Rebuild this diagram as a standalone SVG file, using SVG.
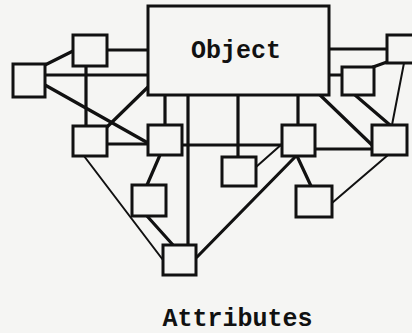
<svg xmlns="http://www.w3.org/2000/svg" width="412" height="333" viewBox="0 0 412 333">
  <style>
    .box { fill: #f5f5f3; stroke: #111; stroke-width: 3; }
    .thick { stroke: #111; stroke-width: 3.2; fill: none; stroke-linecap: round; }
    .thin { stroke: #111; stroke-width: 2; fill: none; stroke-linecap: round; }
    .lbl { font-family: "Liberation Mono", "Courier New", monospace; font-size: 25px; font-weight: bold; fill: #111; }
  </style>
  <rect width="412" height="333" fill="#f5f5f3"/>

  <!-- connectors -->
  <g id="connectors">
    <line class="thick" x1="107" y1="50" x2="148" y2="50"/>
    <line class="thick" x1="45" y1="65" x2="73" y2="51"/>
    <line class="thick" x1="45" y1="75" x2="148" y2="75"/>
    <line class="thick" x1="45" y1="85" x2="148" y2="143"/>
    <line class="thick" x1="148" y1="87" x2="107" y2="127"/>
    <line class="thick" x1="86" y1="66" x2="86" y2="126"/>
    <line class="thick" x1="107" y1="144" x2="148" y2="144"/>
    <line class="thick" x1="165" y1="95" x2="165" y2="125"/>
    <line class="thick" x1="188" y1="95" x2="188" y2="245"/>
    <line class="thick" x1="182" y1="145" x2="282" y2="145"/>
    <line class="thick" x1="238" y1="95" x2="238" y2="157"/>
    <line class="thick" x1="298" y1="95" x2="298" y2="125"/>
    <line class="thick" x1="320" y1="95" x2="373" y2="146"/>
    <line class="thick" x1="329" y1="49" x2="387" y2="49"/>
    <line class="thick" x1="329" y1="75" x2="342" y2="75"/>
    <line class="thick" x1="373" y1="67" x2="387" y2="62"/>
    <line class="thick" x1="355" y1="95" x2="390" y2="125"/>
    <line class="thin" x1="404" y1="63" x2="392" y2="125"/>
    <line class="thick" x1="315" y1="149" x2="372" y2="149"/>
    <line class="thin" x1="256" y1="167" x2="282" y2="144"/>
    <line class="thick" x1="296" y1="156" x2="197" y2="257"/>
    <line class="thick" x1="297" y1="156" x2="311" y2="186"/>
    <line class="thin" x1="332" y1="203" x2="388" y2="155"/>
    <line class="thick" x1="160" y1="155" x2="147" y2="185"/>
    <line class="thick" x1="147" y1="216" x2="173" y2="245"/>
    <line class="thin" x1="84" y1="156" x2="163" y2="260"/>
  </g>

  <!-- central object -->
  <g id="object">
    <rect class="box" x="148" y="6" width="181" height="89"/>
    <text class="lbl" x="236" y="58" text-anchor="middle">Object</text>
  </g>

  <!-- attribute nodes -->
  <g id="attr-a"><rect class="box" x="73" y="35" width="34" height="31"/></g>
  <g id="attr-b"><rect class="box" x="13" y="64" width="32" height="33"/></g>
  <g id="attr-c"><rect class="box" x="73" y="126" width="34" height="30"/></g>
  <g id="attr-d"><rect class="box" x="148" y="125" width="34" height="30"/></g>
  <g id="attr-e"><rect class="box" x="282" y="125" width="33" height="31"/></g>
  <g id="attr-f"><rect class="box" x="387" y="35" width="32" height="28"/></g>
  <g id="attr-g"><rect class="box" x="342" y="67" width="32" height="28"/></g>
  <g id="attr-h"><rect class="box" x="372" y="125" width="35" height="30"/></g>
  <g id="attr-i"><rect class="box" x="222" y="157" width="34" height="29"/></g>
  <g id="attr-k"><rect class="box" x="296" y="186" width="36" height="31"/></g>
  <g id="attr-l"><rect class="box" x="132" y="185" width="34" height="31"/></g>
  <g id="attr-j"><rect class="box" x="163" y="245" width="33" height="30"/></g>

  <!-- caption -->
  <g id="caption">
    <text class="lbl" x="237.5" y="326" text-anchor="middle">Attributes</text>
  </g>
</svg>
